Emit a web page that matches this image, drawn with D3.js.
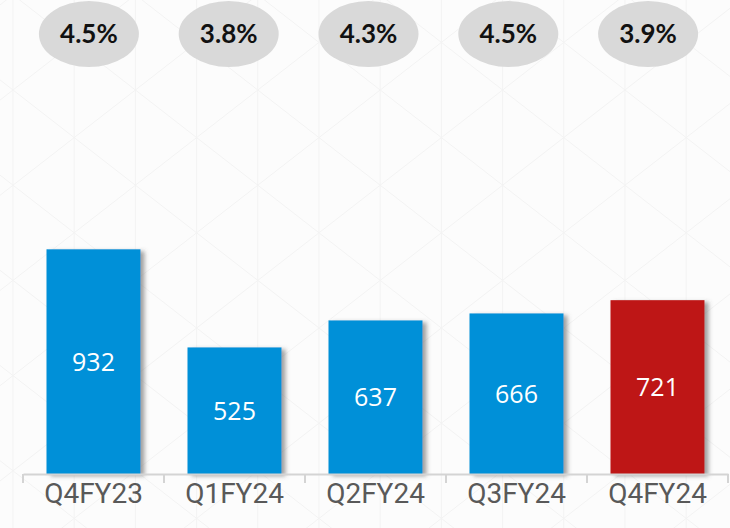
<!DOCTYPE html>
<html><head><meta charset="utf-8">
<script src="https://cdn.jsdelivr.net/npm/d3@7"></script>
<style>html,body{margin:0;padding:0;background:#fcfcfc;}svg{display:block;}</style>
</head><body>
<script>
const categories = ["Q4FY23","Q1FY24","Q2FY24","Q3FY24","Q4FY24"];
const values = [932, 525, 637, 666, 721];
const pctLabels = ["4.5%","3.8%","4.3%","4.5%","3.9%"];
const highlight = ["Q4FY24"];

const W = 730, H = 528;
const svg = d3.select("body").append("svg").attr("width", W).attr("height", H);
const defs = svg.append("defs");
const f = defs.append("filter").attr("id","sh").attr("x","-20%").attr("y","-20%").attr("width","150%").attr("height","150%");
f.append("feDropShadow").attr("dx",4).attr("dy",2).attr("stdDeviation",2.2).attr("flood-color","#555").attr("flood-opacity",0.55);

// background
svg.append("rect").attr("width",W).attr("height",H).attr("fill","#fcfcfc");
const bg = svg.append("g").attr("stroke","#f3f3f3").attr("stroke-width",1).attr("fill","none");
const colW = 61.2, rowH = 47.6, x0 = 13, y0 = 90;
for (let c = -4; c < 16; c++) bg.append("line").attr("x1",x0+c*colW).attr("x2",x0+c*colW).attr("y1",0).attr("y2",H);
for (let k = -20; k < 30; k++) {
  const xs = x0 + k*2*colW;
  bg.append("line").attr("x1",xs).attr("y1",y0 - 10*rowH).attr("x2",xs + 20*colW).attr("y2",y0 + 10*rowH);
  bg.append("line").attr("x1",xs).attr("y1",y0 - 10*rowH).attr("x2",xs - 20*colW).attr("y2",y0 + 10*rowH);
}

const x = d3.scaleBand().domain(categories).range([23, 728]).paddingInner(1/3).paddingOuter(1/6);
const y = d3.scaleLinear().domain([0, 1000]).range([474, 232.9]);
const xp = d3.scaleBand().domain(categories).range([19, 718]).padding(0);

// percentage ellipses
const pg = svg.append("g").selectAll("g").data(categories).join("g")
  .attr("transform", d => `translate(${xp(d)+xp.bandwidth()/2},34)`);
pg.append("ellipse").attr("rx",50).attr("ry",33).attr("fill","#d9d9d9");
pg.append("text").text((d,i)=>pctLabels[i]).attr("text-anchor","middle").attr("dy","0.36em")
  .attr("font-family","Lato, 'Open Sans', sans-serif").attr("font-weight",700).attr("font-size",26).attr("fill","#111111");

// bars
svg.append("g").selectAll("rect").data(categories).join("rect")
  .attr("x", d => x(d)).attr("width", x.bandwidth())
  .attr("y", (d,i) => y(values[i])).attr("height", (d,i) => y(0) - y(values[i]))
  .attr("fill", d => highlight.includes(d) ? "#be1919" : "#0590d8")
  .attr("filter","url(#sh)");

// value labels
svg.append("g").selectAll("text").data(categories).join("text")
  .attr("x", d => x(d) + x.bandwidth()/2)
  .attr("y", (d,i) => (y(values[i]) + y(0))/2)
  .attr("dy","0.36em").attr("text-anchor","middle")
  .attr("font-family","'Open Sans', sans-serif").attr("font-size",25).attr("fill","#ffffff")
  .text((d,i) => values[i]);

// axis
const ax = svg.append("g").attr("transform","translate(0,474)")
  .call(d3.axisBottom(x).tickSize(0).tickPadding(30));
ax.select(".domain").attr("stroke","#d4d4d4").attr("stroke-width",2);
ax.selectAll("text").attr("font-family","Roboto, sans-serif").attr("font-size",28).attr("fill","#595959").attr("dy","-0.05em");
const step = x.step(), off = (step - x.bandwidth())/2;
const bounds = categories.map(d => x(d) - off).concat([x(categories[categories.length-1]) + x.bandwidth() + off]);
svg.append("g").selectAll("line").data(bounds).join("line")
  .attr("x1", d => d).attr("x2", d => d).attr("y1", 474).attr("y2", 483)
  .attr("stroke","#d4d4d4").attr("stroke-width",2);
</script>
</body></html>
